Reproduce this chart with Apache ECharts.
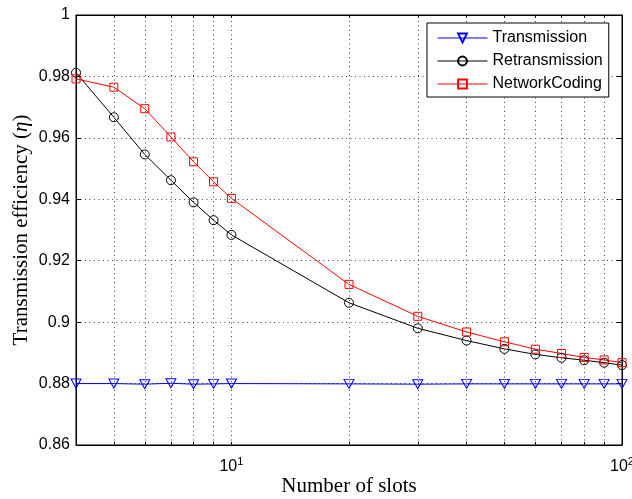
<!DOCTYPE html>
<html>
<head>
<meta charset="utf-8">
<script src="https://cdn.jsdelivr.net/npm/echarts@6/dist/echarts.min.js"></script>
<style>
  html, body { margin: 0; padding: 0; background: #fff; }
  #chart { width: 632px; height: 499px; }
</style>
</head>
<body>
<div id="chart"></div>
<script>
// number of slots (x, log scale)
var slots = [4, 5, 6, 7, 8, 9, 10, 20, 30, 40, 50, 60, 70, 80, 90, 100];
var transmission = [0.8800, 0.8800, 0.8798, 0.8801, 0.8798, 0.8799, 0.8800, 0.8799,
                    0.8798, 0.8799, 0.8799, 0.8799, 0.8799, 0.8799, 0.8799, 0.8799];
var retransmission = [0.9812, 0.9667, 0.9546, 0.9462, 0.9390, 0.9332, 0.9284, 0.9063,
                      0.8980, 0.8940, 0.8913, 0.8895, 0.8884, 0.8876, 0.8868, 0.8860];
var networkCoding = [0.9792, 0.9765, 0.9695, 0.9603, 0.9522, 0.9457, 0.9403, 0.9123,
                     0.9019, 0.8968, 0.8936, 0.8912, 0.8898, 0.8885, 0.8877, 0.8868];
// dotted vertical grid positions / minor ticks
var gridSlots = [5, 6, 7, 8, 9, 10, 20, 30, 40, 50, 60, 70, 80, 90];

function pairs(ys) {
  return slots.map(function (x, i) { return [x, ys[i]]; });
}

var sans = 'Liberation Sans, Arial, sans-serif';
var serif = 'Liberation Serif, Times New Roman, serif';
var dotted = { color: '#444', width: 1, type: [1, 3.5] };
var xTicks = { inside: true, length: 3, customValues: gridSlots, lineStyle: { color: '#000' } };
var hollow = 'rgba(255,255,255,0)';

var chart = echarts.init(document.getElementById('chart'));
chart.setOption({
  animation: false,
  backgroundColor: '#fff',
  grid: {
    left: 76, right: 10, top: 15, bottom: 54,
    outerBoundsMode: 'none', containLabel: false,
    show: true, borderColor: '#000', borderWidth: 1
  },
  legend: {
    data: ['Transmission', 'Retransmission', 'NetworkCoding'],
    orient: 'vertical',
    left: 427, top: 23,
    padding: [7, 6, 5, 10],
    itemGap: 7,
    itemWidth: 50, itemHeight: 11,
    backgroundColor: '#fff',
    borderColor: '#000', borderWidth: 1, borderRadius: 0,
    lineStyle: { width: 1 },
    textStyle: { fontFamily: sans, fontSize: 16, color: '#000' }
  },
  xAxis: [{
    type: 'log', logBase: 10, min: 4, max: 100,
    name: 'Number of slots', nameLocation: 'middle', nameGap: 31, nameMoveOverlap: false,
    nameTextStyle: { fontFamily: serif, fontSize: 21, color: '#000' },
    axisLine: { lineStyle: { color: '#000' } },
    axisTick: xTicks,
    splitLine: { show: false },
    axisLabel: {
      margin: 11, color: '#000', fontFamily: sans, fontSize: 16,
      formatter: function (v) {
        var e = Math.round(Math.log10(v));
        if (Math.abs(Math.log10(v) - e) > 1e-6) return '';
        return '10{sup|' + e + '}';
      },
      rich: { sup: { fontFamily: sans, fontSize: 11, padding: [0, 0, 10, 0] } }
    }
  }, {
    type: 'log', logBase: 10, min: 4, max: 100, position: 'top',
    axisLine: { lineStyle: { color: '#000' } },
    axisTick: xTicks,
    axisLabel: { show: false }, splitLine: { show: false }
  }],
  yAxis: [{
    type: 'value', min: 0.86, max: 1, interval: 0.02,
    name: 'Transmission efficiency ({i|η})', nameLocation: 'middle', nameGap: 44, nameMoveOverlap: false,
    nameTextStyle: {
      fontFamily: serif, fontSize: 21, color: '#000',
      rich: { i: { fontFamily: serif, fontSize: 21, fontStyle: 'italic', color: '#000' } }
    },
    axisLine: { show: true, lineStyle: { color: '#000' } },
    axisTick: { inside: true, length: 5, lineStyle: { color: '#000' } },
    splitLine: { show: true, lineStyle: dotted },
    axisLabel: {
      margin: 6, color: '#000', fontFamily: sans, fontSize: 16,
      formatter: function (v) { return String(+v.toFixed(2)); }
    }
  }, {
    type: 'value', min: 0.86, max: 1, interval: 0.02, position: 'right',
    axisLine: { show: true, lineStyle: { color: '#000' } },
    axisTick: { inside: true, length: 5, lineStyle: { color: '#000' } },
    axisLabel: { show: false }, splitLine: { show: false }
  }],
  series: [{
    name: 'Transmission', type: 'line', data: pairs(transmission),
    symbol: 'triangle', symbolRotate: 180, symbolSize: [10, 9],
    lineStyle: { color: '#0000ff', width: 1 },
    itemStyle: { color: hollow, borderColor: '#0000ff', borderWidth: 1 },
    markLine: {
      silent: true, symbol: 'none', z: 1, animation: false,
      label: { show: false },
      lineStyle: dotted,
      data: gridSlots.map(function (x) { return { xAxis: x }; })
    }
  }, {
    name: 'Retransmission', type: 'line', data: pairs(retransmission),
    symbol: 'circle', symbolSize: 9,
    lineStyle: { color: '#000', width: 1 },
    itemStyle: { color: hollow, borderColor: '#000', borderWidth: 1 }
  }, {
    name: 'NetworkCoding', type: 'line', data: pairs(networkCoding),
    symbol: 'rect', symbolSize: 8,
    lineStyle: { color: '#ff0000', width: 1 },
    itemStyle: { color: hollow, borderColor: '#ff0000', borderWidth: 1 }
  }]
});
</script>
</body>
</html>
